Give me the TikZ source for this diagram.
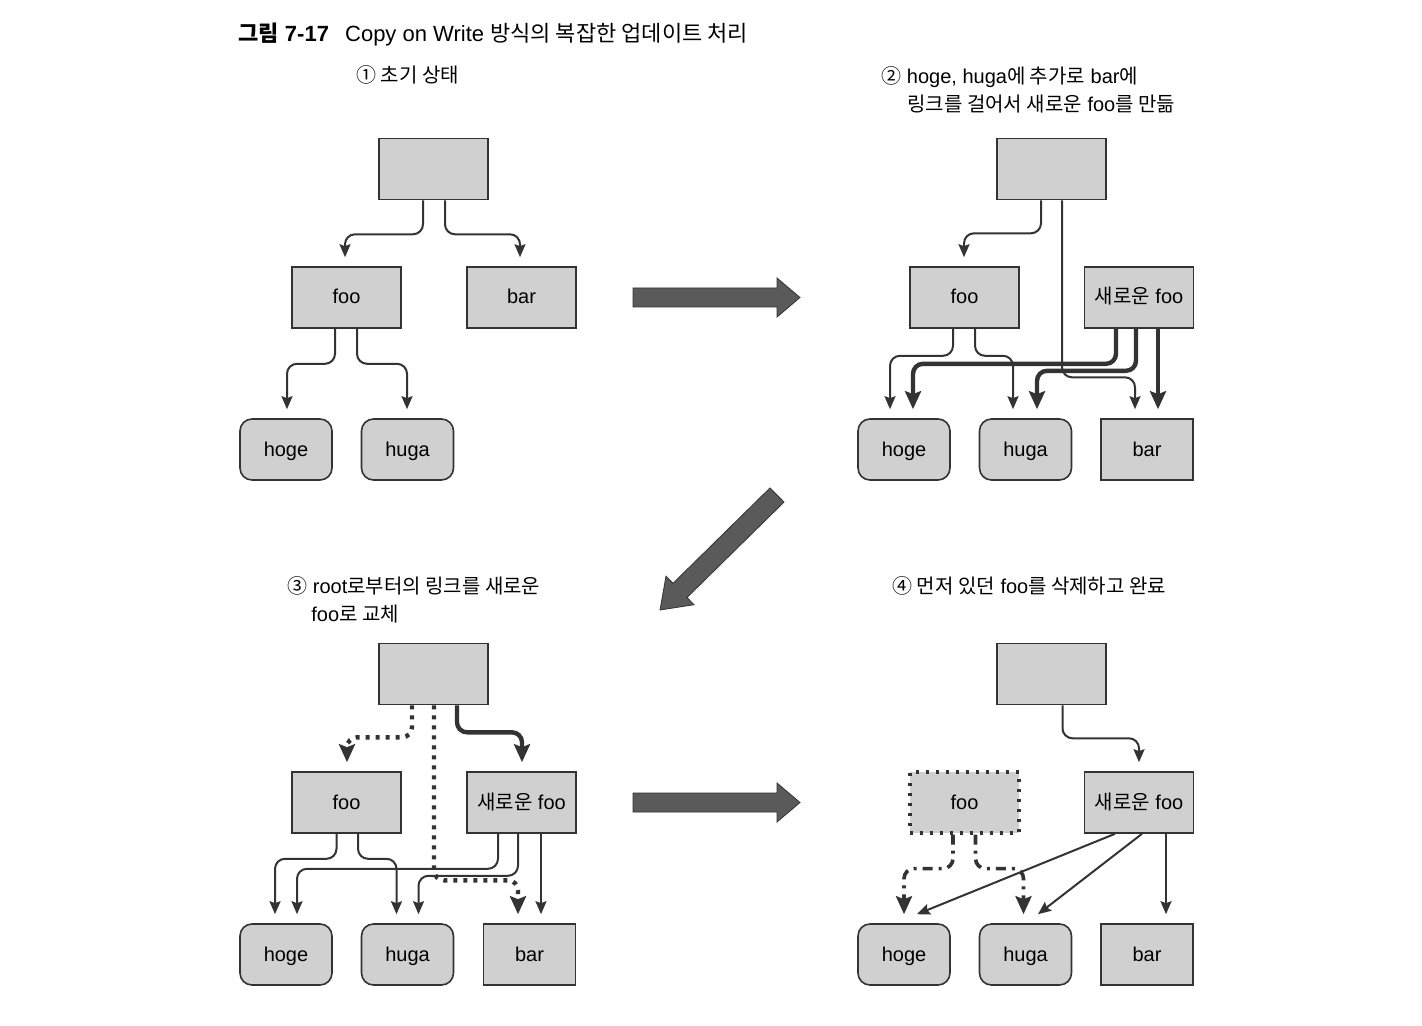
\documentclass[tikz,border=0pt]{standalone}
\usepackage{fontspec}
\setmainfont{Liberation Sans}
\newfontfamily\krfont{Noto Sans CJK KR}
\newcommand\kor[1]{{\krfont #1}}
\usetikzlibrary{arrows.meta,calc}
\definecolor{linec}{HTML}{333333}
\definecolor{boxfill}{HTML}{D0D0D0}
\definecolor{arrowc}{HTML}{5A5A5A}
\begin{document}
\begin{tikzpicture}[x=0.5pt,y=-0.5pt,
  box/.style={draw=linec, fill=boxfill, line width=0.8pt, minimum width=54.5pt, minimum height=30.5pt, inner sep=0pt, text height=8.5pt, text depth=2pt, font=\fontsize{10}{12}\selectfont},
  leaf/.style={box, rounded corners=6pt, minimum width=46pt},
  leafsq/.style={box, minimum width=46pt},
  gonebox/.style={box, draw=linec, line width=1.6pt, dash pattern=on 1.5pt off 3.5pt},
  conn/.style={draw=linec, line width=1pt, rounded corners=5pt, -{Stealth[length=6.5pt,width=5.5pt,inset=1pt]}},
  bold/.style={conn, line width=2.2pt, -{Stealth[length=9pt,width=8pt,inset=1.5pt]}},
  dots/.style={bold, dash pattern=on 2pt off 3pt},
  dashdot/.style={bold, line width=1.8pt, dash pattern=on 5pt off 3pt on 1.5pt off 3pt},
  lbl/.style={anchor=base west, inner sep=0pt, font=\fontsize{10}{12}\selectfont},
  bigarrow/.style={fill=arrowc, draw=linec, line width=0.4pt}
]
\useasboundingbox (0,0) rectangle (1422,1026);

% title and captions
\node[lbl, font=\fontsize{11}{13}\selectfont] (title) at (238,42)
  {\kor{\bfseries 그림} \textbf{7-17}\hspace{5pt} Copy on Write \kor{방식의 복잡한 업데이트 처리}};
\node[lbl] (cap1) at (356,83) {\kor{① 초기 상태}};
\node[lbl] (cap2a) at (881,84) {\kor{②} hoge, huga\kor{에 추가로} bar\kor{에}};
\node[lbl] (cap2b) at (907,112) {\kor{링크를 걸어서 새로운} foo\kor{를 만듦}};
\node[lbl] (cap3a) at (287,593) {\kor{③} root\kor{로부터의 링크를 새로운}};
\node[lbl] (cap3b) at (311,621) {foo\kor{로 교체}};
\node[lbl] (cap4) at (892,593) {\kor{④ 먼저 있던} foo\kor{를 삭제하고 완료}};

% panel 1
\node[box] (r1) at (433.5,169) {};
\node[box] (f1) at (346.5,297.5) {foo};
\node[box] (b1) at (521.5,297.5) {bar};
\node[leaf] (h1) at (286,449.5) {hoge};
\node[leaf] (u1) at (407.5,449.5) {huga};
\draw[conn] ($(r1.south)+(-10.5,0)$) -- ++(0,34) -| ($(f1.north)+(-1.5,-9)$);
\draw[conn] ($(r1.south)+(11.5,0)$) -- ++(0,34) -| ($(b1.north)+(-1.5,-9)$);
\draw[conn] ($(f1.south)+(-11.5,0)$) -- ++(0,35) -| ($(h1.north)+(1,-9)$);
\draw[conn] ($(f1.south)+(10.5,0)$) -- ++(0,35) -| ($(u1.north)+(-0.5,-9)$);

% panel 2
\node[box] (r2) at (1051.5,169) {};
\node[box] (f2) at (964.5,297.5) {foo};
\node[box] (n2) at (1139,297.5) {\kor{새로운} foo};
\node[leaf] (h2) at (904,449.5) {hoge};
\node[leaf] (u2) at (1025.5,449.5) {huga};
\node[leafsq] (b2) at (1147,449.5) {bar};
\draw[conn] ($(r2.south)+(-10.5,0)$) -- ++(0,33) -| ($(f2.north)+(-0.5,-9)$);
\draw[conn] ($(r2.south)+(10.5,0)$) -- ++(0,177) -| ($(b2.north)+(-12,-9)$);
\draw[conn] ($(f2.south)+(-11.5,0)$) -- ++(0,27) -| ($(h2.north)+(-14,-9)$);
\draw[conn] ($(f2.south)+(10.5,0)$) -- ++(0,27) -| ($(u2.north)+(-12.5,-9)$);
\draw[bold] ($(n2.south)+(-23,0)$) -- ++(0,35) -| ($(h2.north)+(9,-9)$);
\draw[bold] ($(n2.south)+(-3,0)$) -- ++(0,42) -| ($(u2.north)+(11.5,-9)$);
\draw[bold] ($(n2.south)+(19,0)$) -- ($(b2.north)+(11,-9)$);

% panel 3
\node[box] (r3) at (433.5,674) {};
\node[box] (f3) at (346.5,802.5) {foo};
\node[box] (n3) at (521.5,802.5) {\kor{새로운} foo};
\node[leaf] (h3) at (286,954.5) {hoge};
\node[leaf] (u3) at (407.5,954.5) {huga};
\node[leafsq] (b3) at (529.5,954.5) {bar};
\draw[dots] ($(r3.south)+(-21.5,0)$) -- ++(0,32) -| ($(f3.north)+(0.5,-9)$);
\draw[dots] ($(r3.south)+(0.5,0)$) -- ++(0,175) -| ($(b3.north)+(-11.5,-9)$);
\draw[bold] ($(r3.south)+(23.5,0)$) -- ++(0,27) -| ($(n3.north)+(0.5,-9)$);
\draw[conn] ($(f3.south)+(-10,0)$) -- ++(0,25) -| ($(h3.north)+(-11,-9)$);
\draw[conn] ($(f3.south)+(11.5,0)$) -- ++(0,25) -| ($(u3.north)+(-11,-9)$);
\draw[conn] ($(n3.south)+(-23.5,0)$) -- ++(0,35) -| ($(h3.north)+(11,-9)$);
\draw[conn] ($(n3.south)+(-3.5,0)$) -- ++(0,42) -| ($(u3.north)+(11,-9)$);
\draw[conn] ($(n3.south)+(19.5,0)$) -- ($(b3.north)+(11.5,-9)$);

% panel 4
\node[box] (r4) at (1051.5,674) {};
\node[gonebox] (f4) at (964.5,802.5) {foo};
\node[box] (n4) at (1139,802.5) {\kor{새로운} foo};
\node[leaf] (h4) at (904,954.5) {hoge};
\node[leaf] (u4) at (1025.5,954.5) {huga};
\node[leafsq] (b4) at (1147,954.5) {bar};
\draw[conn] ($(r4.south)+(11,0)$) -- ++(0,33) -| ($(n4.north)+(0,-9)$);
\draw[dashdot] ($(f4.south)+(-11.5,0)$) -- ++(0,34) -| ($(h4.north)+(0,-9)$);
\draw[dashdot] ($(f4.south)+(11,0)$) -- ++(0,34) -| ($(u4.north)+(-2,-9)$);
\draw[conn] ($(n4.south)+(-24,0)$) -- ($(h4.north)+(13,-9)$);
\draw[conn] ($(n4.south)+(3,0)$) -- ($(u4.north)+(12.5,-9)$);
\draw[conn] ($(n4.south)+(27,0)$) -- ($(b4.north)+(19,-9)$);

% big transition arrows
\draw[bigarrow] (633,288) -- (777,288) -- (777,278) -- (800,297.5) -- (777,317) -- (777,307) -- (633,307) -- cycle;
\draw[bigarrow] (633,793) -- (777,793) -- (777,783) -- (800,802.5) -- (777,822) -- (777,812) -- (633,812) -- cycle;
\draw[bigarrow] (770,487.9) -- (784,502.1) -- (687,597.5) -- (694,604.7) -- (660,610) -- (666,576.1) -- (673,583.3) -- cycle;
\end{tikzpicture}
\end{document}
